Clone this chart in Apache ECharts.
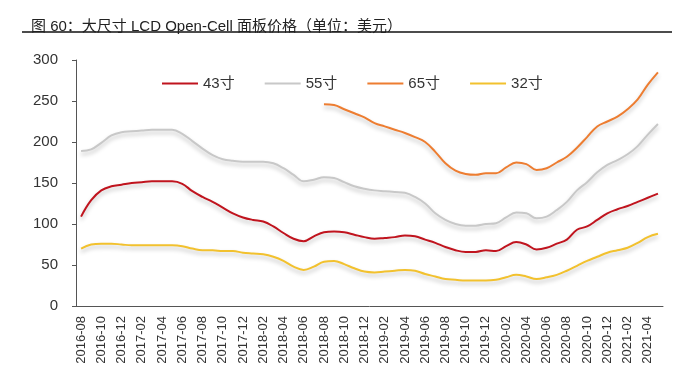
<!DOCTYPE html>
<html><head><meta charset="utf-8">
<script src="https://cdn.jsdelivr.net/npm/echarts@6/dist/echarts.min.js"></script>
<style>html,body{margin:0;padding:0;background:#fff}#c{width:682px;height:391px}</style>
</head><body><div id="c"></div>
<script>
const categories = (function(){const a=[];let y=2016,m=8;for(let i=0;i<58;i++){a.push(y+'-'+String(m).padStart(2,'0'));m++;if(m>12){m=1;y++;}}return a;})();
const s43 = [109,129,141,146,148,150,151,152,152,152,149,140,133,127,120,113,108,105,103,97,89,82,79,85,90,91,90,87,84,82,83,84,86,85,81,77,72,68,66,66,68,67,73,78,75,69,71,76,81,93,97,105,113,118,122,127,132,137];
const s55 = [189,191,199,208,212,213,214,215,215,215,210,201,192,184,179,177,176,176,176,174,168,160,152,154,157,156,151,146,143,141,140,139,138,133,125,113,105,100,98,98,100,101,108,114,113,107,109,117,127,141,151,163,172,178,185,195,209,222];
const s65 = [null,null,null,null,null,null,null,null,null,null,null,null,null,null,null,null,null,null,null,null,null,null,null,null,246,245,240,235,230,223,219,215,211,206,200,188,174,165,161,160,162,162,169,175,173,166,168,175,182,193,206,219,225,231,240,252,270,285];
const s32 = [70,75,76,76,75,74,74,74,74,74,73,70,68,68,67,67,65,64,63,60,55,48,44,48,54,55,51,46,42,41,42,43,44,43,39,36,33,32,31,31,31,32,35,38,36,33,35,38,43,49,55,60,65,68,71,77,84,88];
const seriesNames = ['43寸','55寸','65寸','32寸'];
const colors = ['#C0141E','#C8C8C8','#ED7D31','#F2C12E'];
const yTicks = [0,50,100,150,200,250,300];

const FONT = '"Liberation Sans", Arial, "Noto Sans CJK SC", sans-serif';
const chart = echarts.init(document.getElementById('c'));
const dataSets = [s43,s55,s65,s32];
chart.setOption({
  animation:false,
  textStyle:{fontFamily:FONT},
  title:{text:'图 60：大尺寸 LCD Open-Cell 面板价格（单位：美元）',left:26,top:14,
    textStyle:{fontSize:15,fontWeight:'normal',color:'#222',fontFamily:FONT}},
  graphic:[{type:'line',shape:{x1:22,y1:32,x2:672,y2:32},style:{stroke:'#111',lineWidth:1.5}}],
  legend:{left:157,top:71,icon:'rect',itemWidth:36,itemHeight:2,itemGap:30,
    textStyle:{fontSize:15,color:'#333',fontFamily:FONT},data:seriesNames},
  grid:{left:76,right:19,top:60,bottom:85,containLabel:false},
  xAxis:{type:'category',data:categories,boundaryGap:true,
    axisLine:{lineStyle:{color:'#555',width:1}},
    axisTick:{interval:1,length:4,lineStyle:{color:'#555'}},
    axisLabel:{interval:1,rotate:90,fontSize:13,color:'#333',margin:10,fontFamily:FONT}},
  yAxis:{type:'value',min:0,max:300,interval:50,
    axisLine:{show:true,lineStyle:{color:'#555',width:1}},
    axisTick:{show:true,length:4,inside:false,lineStyle:{color:'#555'}},
    splitLine:{show:false},
    axisLabel:{fontSize:15,color:'#333',margin:18,fontFamily:FONT}},
  series:dataSets.map((d,i)=>({name:seriesNames[i],type:'line',data:d,symbol:'none',smooth:0.4,
    connectNulls:false,
    lineStyle:{color:colors[i],width:2,shadowColor:'rgba(0,0,0,0.25)',shadowBlur:4,shadowOffsetY:3},
    itemStyle:{color:colors[i]}}))
});
</script></body></html>
